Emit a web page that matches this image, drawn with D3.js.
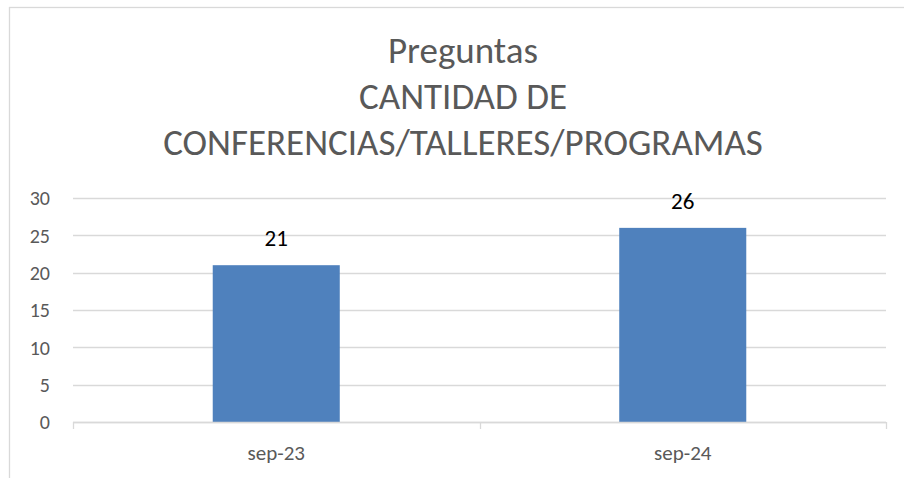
<!doctype html>
<html lang="es">
  <head>
    <meta charset="UTF-8" />
    <title>Preguntas - Cantidad de conferencias</title>
    <script src="https://d3js.org/d3.v7.min.js"></script>
    <style>
      body {
        margin: 0;
        background: #fff;
      }
      svg {
        display: block;
        font-family: Carlito, Lato, 'Open Sans', sans-serif;
      }
      .title {
        font-size: 37px;
        fill: #595959;
      }
      .tick-label {
        font-size: 20px;
        fill: #595959;
      }
      .cat-label {
        font-size: 21px;
        fill: #595959;
      }
      .value-label {
        font-size: 23px;
        fill: #000;
      }
      .grid line {
        stroke: #d9d9d9;
        stroke-width: 1.3;
      }
    </style>
  </head>
  <body>
    <svg id="chart"></svg>
    <script>
      // data
      const categories = ['sep-23', 'sep-24']
      const values = [21, 26]
      const yTicks = [0, 5, 10, 15, 20, 25, 30]
      const titleLines = ['Preguntas', 'CANTIDAD DE', 'CONFERENCIAS/TALLERES/PROGRAMAS']

      const W = 904
      const H = 478
      const plot = { left: 73, right: 886, top: 198, bottom: 422 }

      const svg = d3.select('#chart').attr('width', W).attr('height', H)

      // chart frame (only left/top edges visible in the crop)
      svg
        .append('rect')
        .attr('x', 9.5)
        .attr('y', 7.5)
        .attr('width', 1200)
        .attr('height', 1200)
        .attr('fill', 'none')
        .attr('stroke', '#d9d9d9')
        .attr('stroke-width', 1.3)

      // title
      svg
        .append('g')
        .selectAll('text')
        .data(titleLines)
        .enter()
        .append('text')
        .attr('class', 'title')
        .attr('text-anchor', 'middle')
        .attr('x', 463)
        .attr('y', (d, i) => 63 + i * 46)
        .text((d) => d)

      const x = d3
        .scaleBand()
        .domain(categories)
        .range([plot.left, plot.right])
        .paddingInner(0.6875)
        .paddingOuter(0.34375)

      const y = d3.scaleLinear().domain([0, 30]).range([plot.bottom, plot.top])

      // gridlines
      svg
        .append('g')
        .attr('class', 'grid')
        .selectAll('line')
        .data(yTicks)
        .enter()
        .append('line')
        .attr('x1', plot.left)
        .attr('x2', plot.right)
        .attr('y1', (d) => Math.round(y(d)) + 0.5)
        .attr('y2', (d) => Math.round(y(d)) + 0.5)

      // y tick labels
      svg
        .append('g')
        .selectAll('text')
        .data(yTicks)
        .enter()
        .append('text')
        .attr('class', 'tick-label')
        .attr('text-anchor', 'end')
        .attr('x', 50)
        .attr('y', (d) => y(d))
        .attr('dy', '0.36em')
        .text((d) => d)

      // bars
      svg
        .append('g')
        .selectAll('rect')
        .data(values)
        .enter()
        .append('rect')
        .attr('x', (d, i) => x(categories[i]))
        .attr('width', x.bandwidth())
        .attr('y', (d) => y(d))
        .attr('height', (d) => y(0) - y(d))
        .attr('fill', '#4f81bd')

      // value labels
      svg
        .append('g')
        .selectAll('text')
        .data(values)
        .enter()
        .append('text')
        .attr('class', 'value-label')
        .attr('text-anchor', 'middle')
        .attr('x', (d, i) => x(categories[i]) + x.bandwidth() / 2)
        .attr('y', (d) => y(d) - 19)
        .text((d) => d)

      // x axis line + category separators
      const ax = svg.append('g').attr('class', 'grid')
      ax.append('line')
        .attr('x1', plot.left)
        .attr('x2', plot.right)
        .attr('y1', plot.bottom + 0.5)
        .attr('y2', plot.bottom + 0.5)
      const sepX = [plot.left, ...categories.slice(1).map((c) => x(c) - (x.step() - x.bandwidth()) / 2), plot.right]
      ax.selectAll('.sep')
        .data(sepX)
        .enter()
        .append('line')
        .attr('x1', (d) => Math.round(d) + 0.5)
        .attr('x2', (d) => Math.round(d) + 0.5)
        .attr('y1', plot.bottom)
        .attr('y2', plot.bottom + 7)

      // category labels
      svg
        .append('g')
        .selectAll('text')
        .data(categories)
        .enter()
        .append('text')
        .attr('class', 'cat-label')
        .attr('text-anchor', 'middle')
        .attr('x', (d) => x(d) + x.bandwidth() / 2)
        .attr('y', 460)
        .text((d) => d)
    </script>
  </body>
</html>
